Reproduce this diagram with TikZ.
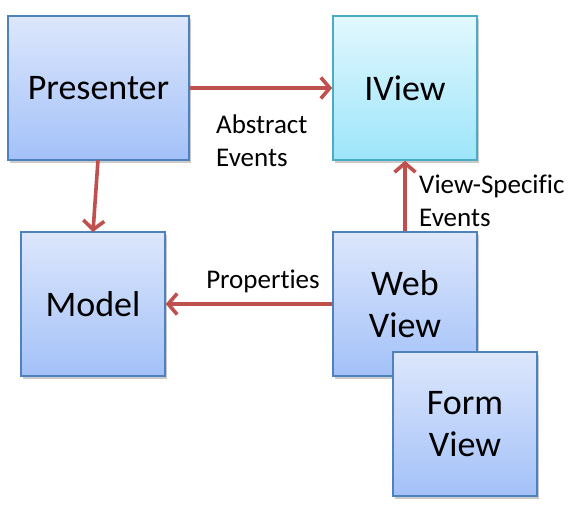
\documentclass[tikz,border=0pt]{standalone}
\usepackage{fontspec}
\setmainfont[RawFeature={-liga}]{Carlito}
\usetikzlibrary{arrows.meta,shadows}
\definecolor{bluetop}{HTML}{DDE7FC}
\definecolor{bluebot}{HTML}{A3C1F8}
\definecolor{blueline}{HTML}{4F81BD}
\definecolor{cyantop}{HTML}{E2F8FE}
\definecolor{cyanbot}{HTML}{9DE5FA}
\definecolor{cyanline}{HTML}{4BACC6}
\definecolor{arrowred}{HTML}{C0504D}
\tikzset{
  box/.style={draw=blueline, line width=1.6pt, top color=bluetop, bottom color=bluebot,
    minimum width=144pt, minimum height=144pt, inner sep=0pt, align=center,
    font=\fontsize{36}{42}\selectfont,
    drop shadow={shadow xshift=2pt, shadow yshift=-3pt, opacity=0.35, fill=black!60}},
  cbox/.style={box, draw=cyanline, top color=cyantop, bottom color=cyanbot},
  conn/.style={draw=arrowred, line width=3.6pt, -{Straight Barb[length=9pt,width=21pt,line width=3.6pt]}},
  lbl/.style={font=\fontsize{27}{33}\selectfont, align=left, inner sep=0pt}
}
\begin{document}
\begin{tikzpicture}[x=1pt,y=-1pt]
\useasboundingbox (0,0) rectangle (582,511);
\node[box, minimum width=181pt] (pres) at (98.5,88) {Presenter};
\node[cbox] (iview) at (405,88) {IView};
\node[box] (model) at (93,304) {Model};
\node[box] (web) at (405,304) {Web\\View};
\node[box] (form) at (465,424) {Form\\View};
\coordinate (pb) at (98,160);
\coordinate (mt) at (93,232);
\draw[conn] (pres.east) -- (iview.west);
\draw[conn] (pb) -- (mt);
\draw[conn] (web.north) -- (iview.south);
\draw[conn] (web.west) -- (model.east);
\node[lbl, anchor=west] (abs) at (216,141) {Abstract\\Events};
\node[lbl, anchor=west] (vse) at (419,201) {View-Specific\\Events};
\node[lbl] (prop) at (263,281) {Properties};
\end{tikzpicture}
\end{document}
